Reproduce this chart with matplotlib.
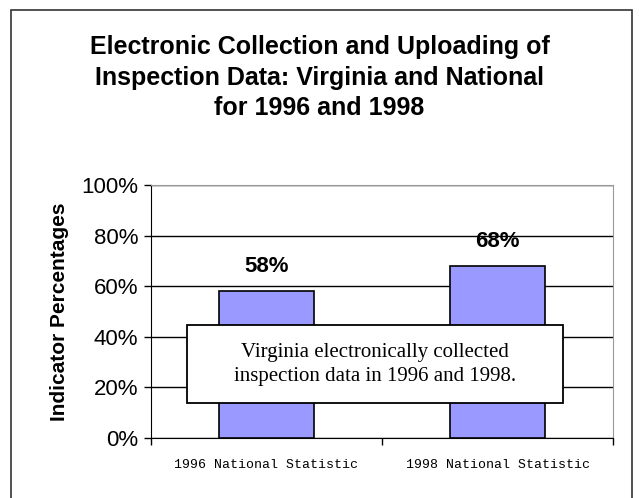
import matplotlib
matplotlib.use("Agg")
import matplotlib.pyplot as plt
from matplotlib.patches import Rectangle

categories = ["1996 National Statistic", "1998 National Statistic"]
values = [58, 68]
value_labels = ["58%", "68%"]
yticks = [0, 20, 40, 60, 80, 100]

plt.rcParams['font.family'] = ['Liberation Sans', 'DejaVu Sans']

fig = plt.figure(figsize=(6.39, 4.98), dpi=100)
W, H = 639, 498

# outer frame
fig.patches.append(Rectangle((11 / W, -0.01), 621 / W, (498 - 10) / H + 0.01,
                             transform=fig.transFigure, fill=False,
                             edgecolor="#333333", lw=1.2))

fig.text(0.5, 1 - 35 / H,
         "Electronic Collection and Uploading of\nInspection Data: Virginia and National\nfor 1996 and 1998",
         ha="center", va="top", fontsize=18, fontweight="bold", linespacing=1.35)

ax = fig.add_axes([151 / W, (H - 438) / H, 462 / W, 253 / H])
x = range(len(categories))
bars = ax.bar(x, values, width=0.41, color="#9999FF", edgecolor="black",
              lw=1.2, zorder=3)
for b, lab in zip(bars, value_labels):
    ax.annotate(lab, (b.get_x() + b.get_width() / 2, b.get_height()),
                xytext=(0, 10), textcoords="offset points", ha="center",
                va="bottom", fontsize=16, fontweight="bold")

ax.set_xlim(-0.5, 1.5)
ax.set_ylim(0, 100)
ax.set_yticks(yticks)
ax.set_yticklabels([f"{t}%" for t in yticks], fontsize=16)
ax.yaxis.grid(True, color="black", lw=1, zorder=0)
ax.set_axisbelow(True)
ax.tick_params(axis="y", length=5, width=1, pad=4)

ax.set_xticks([-0.5, 0.5, 1.5])
ax.set_xticklabels([])
ax.set_xticks(list(x), minor=True)
ax.set_xticklabels(categories, minor=True, family="Liberation Mono",
                   fontsize=9.5)
ax.tick_params(axis="x", which="major", length=5, width=1)
ax.tick_params(axis="x", which="minor", length=0, pad=15)

ax.set_ylabel("Indicator Percentages", fontsize=15, fontweight="bold",
              labelpad=9)

for s in ["top", "right"]:
    ax.spines[s].set_color("#999999")
for s in ["left", "bottom"]:
    ax.spines[s].set_color("black")

# note box
ax.add_patch(Rectangle((0.078, 0.138), 0.814, 0.309, transform=ax.transAxes,
                       facecolor="white", edgecolor="black", lw=1.3,
                       zorder=5))
ax.text(0.485, 0.292,
        "Virginia electronically collected\ninspection data in 1996 and 1998.",
        transform=ax.transAxes, ha="center", va="center", fontsize=15,
        family="Liberation Serif", zorder=6, linespacing=1.35)

fig.savefig("out.png", dpi=100)
